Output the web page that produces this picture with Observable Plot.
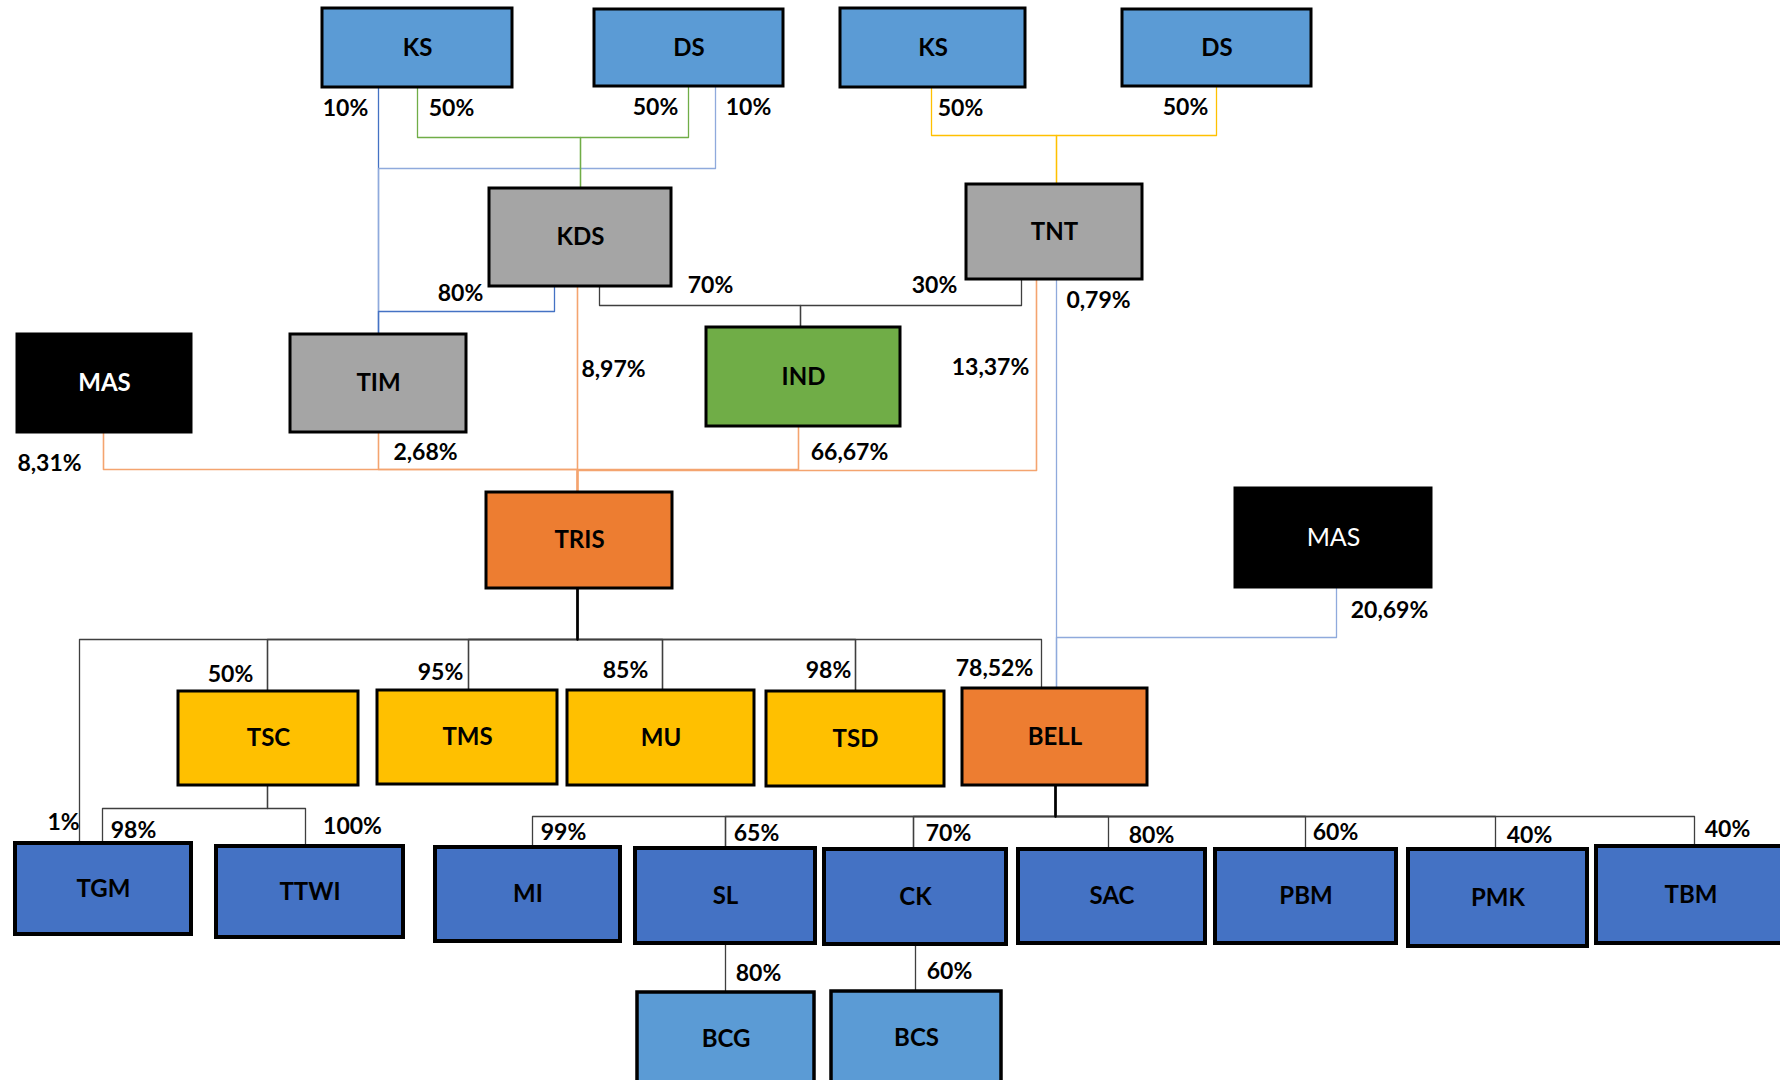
<!DOCTYPE html>
<html>
<head>
<meta charset="utf-8">
<script src="https://cdn.jsdelivr.net/npm/d3@7"></script>
<script src="https://cdn.jsdelivr.net/npm/@observablehq/plot@0.6"></script>
<style>
html, body { margin: 0; padding: 0; background: #ffffff; overflow: hidden; }
#chart svg { display: block; }
</style>
</head>
<body>
<div id="chart"></div>
<script>
// ---------------- DATA ----------------
const nodeIds    = ["KS_a","DS_a","KS_b","DS_b","KDS","TNT","MAS_a","TIM","IND","TRIS","MAS_b",
                    "TSC","TMS","MU","TSD","BELL","TGM","TTWI","MI","SL","CK","SAC","PBM","PMK","TBM","BCG","BCS"];
const nodeLabels = ["KS","DS","KS","DS","KDS","TNT","MAS","TIM","IND","TRIS","MAS",
                    "TSC","TMS","MU","TSD","BELL","TGM","TTWI","MI","SL","CK","SAC","PBM","PMK","TBM","BCG","BCS"];
const nodeKinds  = ["owner","owner","owner","owner","holding","holding","outside","holding","venture","group","outside",
                    "subsidiary","subsidiary","subsidiary","subsidiary","group",
                    "operating","operating","operating","operating","operating","operating","operating","operating","operating",
                    "affiliate","affiliate"];

const edgeFrom  = ["KS_a","DS_a","KS_a","DS_a","KDS","KDS","TNT","KS_b","DS_b",
                   "MAS_a","TIM","KDS","IND","TNT","TNT","MAS_b",
                   "TRIS","TRIS","TRIS","TRIS","TRIS","TRIS","TSC","TSC",
                   "BELL","BELL","BELL","BELL","BELL","BELL","BELL","SL","CK"];
const edgeTo    = ["TIM","TIM","KDS","KDS","TIM","IND","IND","TNT","TNT",
                   "TRIS","TRIS","TRIS","TRIS","TRIS","BELL","BELL",
                   "TGM","TSC","TMS","MU","TSD","BELL","TGM","TTWI",
                   "MI","SL","CK","SAC","PBM","PMK","TBM","BCG","BCS"];
const edgeShare = ["10%","10%","50%","50%","80%","70%","30%","50%","50%",
                   "8,31%","2,68%","8,97%","66,67%","13,37%","0,79%","20,69%",
                   "1%","50%","95%","85%","98%","78,52%","98%","100%",
                   "99%","65%","70%","80%","60%","40%","40%","80%","60%"];

// ---------------- STYLE ----------------
const kindDomain = ["owner","holding","outside","venture","group","subsidiary","operating","affiliate",
                    "l-blue","l-blue2","l-green","l-yellow","l-orange","l-dark"];
const kindRange  = ["#5B9BD5","#A5A5A5","#000000","#70AD47","#ED7D31","#FFC000","#4472C4","#5B9BD5",
                    "#4472C4","#8FAADC","#70AD47","#FFC000","#F4A46F","#3F3F3F"];

// ---------------- LAYOUT (diagram placement) ----------------
// box extents: [x1, x2, y1, y2]
const boxLayout = {
  KS_a:[322,512,8,87], DS_a:[594,783,9,86], KS_b:[840,1025,8,87], DS_b:[1122,1311,9,86],
  KDS:[489,671,188,286], TNT:[966,1142,184,279],
  MAS_a:[17,191,334,432], TIM:[290,466,334,432], IND:[706,900,327,426],
  TRIS:[486,672,492,588], MAS_b:[1235,1431,488,587],
  TSC:[178,358,691,785], TMS:[377,557,690,784], MU:[567,754,690,785], TSD:[766,944,691,786], BELL:[962,1147,688,785],
  TGM:[15,191,843,934], TTWI:[216,403,846,937], MI:[435,620,847,941], SL:[635,815,848,943], CK:[824,1006,849,944],
  SAC:[1018,1205,849,943], PBM:[1215,1396,849,943], PMK:[1408,1587,849,946], TBM:[1596,1785,846,943],
  BCG:[637,814,992,1085], BCS:[831,1001,991,1085]
};
const boxStroke = {TGM:4,TTWI:4,MI:4,SL:4,CK:4,SAC:4,PBM:4,PMK:4,TBM:4,BCG:3.5,BCS:3.5};
// connector routing: [exitX, busY, entryX, labelX, labelY, lineKind, width]
const edgeRoute = [
  [378,168,378, 345,108,"l-blue",1.3],
  [715,168,378, 748,107,"l-blue2",1.3],
  [417,137,580, 451,108,"l-green",1.3],
  [688,137,580, 655,107,"l-green",1.3],
  [554,311,378, 460,293,"l-blue",1.3],
  [599,305,800, 710,285,"l-dark",1.3],
  [1021,305,800, 934,285,"l-dark",1.3],
  [931,135,1056, 960,108,"l-yellow",1.3],
  [1216,135,1056, 1185,107,"l-yellow",1.3],
  [103,469,577, 49,463,"l-orange",1.5],
  [378,469,577, 425,452,"l-orange",1.5],
  [577,469,577, 613,369,"l-orange",1.5],
  [798,469,577, 849,452,"l-orange",1.5],
  [1036,470,577, 990,367,"l-orange",1.5],
  [1056,637,1056, 1098,300,"l-blue2",1.3],
  [1336,637,1056, 1389,610,"l-blue2",1.3],
  [577,639,79, 63,822,"l-dark",1.3],
  [577,639,267, 230,674,"l-dark",1.6],
  [577,639,468, 440,672,"l-dark",1.6],
  [577,639,662, 625,670,"l-dark",1.6],
  [577,639,855, 828,670,"l-dark",1.6],
  [577,639,1041, 994,668,"l-dark",1.3],
  [267,808,102, 133,830,"l-dark",1.3],
  [267,808,305, 352,826,"l-dark",1.3],
  [1055,816,532, 563,832,"l-dark",1.3],
  [1055,816,725, 756,833,"l-dark",1.6],
  [1055,816,913, 948,833,"l-dark",1.6],
  [1055,816,1108, 1151,835,"l-dark",1.3],
  [1055,816,1305, 1335,832,"l-dark",1.3],
  [1055,816,1495, 1529,835,"l-dark",1.3],
  [1055,816,1694, 1727,829,"l-dark",1.3],
  [725,968,725, 758,973,"l-dark",1.3],
  [915,968,915, 949,971,"l-dark",1.3]
];
// thick trunk lines from the two main parents
const trunks = [["TRIS",577,639],["BELL",1055,816]];

// ---------------- BUILD ----------------
const nodes = nodeIds.map((id, i) => {
  const [x1, x2, y1, y2] = boxLayout[id];
  return {id, label: nodeLabels[i], kind: nodeKinds[i], x1, x2, y1, y2,
          cx: (x1 + x2) / 2, cy: (y1 + Math.min(y2, 1085)) / 2, sw: boxStroke[id] || 3};
});
const byId = Object.fromEntries(nodes.map(n => [n.id, n]));

const linePts = [];
const shareLabels = [];
edgeFrom.forEach((from, i) => {
  const p = byId[from], c = byId[edgeTo[i]];
  const [ex, bus, cx, lx, ly, kind, w] = edgeRoute[i];
  const pts = [[ex, p.y2], [ex, bus], [cx, bus], [cx, c.y1]];
  pts.forEach(([x, y]) => linePts.push({edge: i, x, y, kind, w}));
  shareLabels.push({x: lx, y: ly, text: edgeShare[i]});
});
const trunkPts = [];
trunks.forEach(([id, x, y], k) => {
  trunkPts.push({t: k, x, y: byId[id].y2}, {t: k, x, y});
});

const font = "Lato, 'Open Sans', 'DejaVu Sans', sans-serif";
const thinPts = linePts.filter(d => d.w < 1.45);
const midPts = linePts.filter(d => d.w >= 1.45);

const chart = Plot.plot({
  width: 1780,
  height: 1080,
  margin: 0,
  x: {domain: [0, 1780], range: [0, 1780], axis: null},
  y: {domain: [0, 1080], range: [0, 1080], axis: null},
  color: {type: "ordinal", domain: kindDomain, range: kindRange},
  style: {fontFamily: font, background: "#ffffff"},
  marks: [
    Plot.line(thinPts, {x: "x", y: "y", z: "edge", stroke: "kind", strokeWidth: 1.3, curve: "linear"}),
    Plot.line(midPts, {x: "x", y: "y", z: "edge", stroke: "kind", strokeWidth: 1.6, curve: "linear"}),
    Plot.line(trunkPts, {x: "x", y: "y", z: "t", stroke: "#000000", strokeWidth: 2.4}),
    Plot.rect(nodes, {x1: "x1", x2: "x2", y1: "y1", y2: "y2", fill: "kind", stroke: "#000000", strokeWidth: "sw"}),
    Plot.text(nodes.filter(n => n.kind !== "outside"),
      {x: "cx", y: "cy", text: "label", fill: "#000000", fontWeight: "bold", fontSize: 24, fontFamily: font}),
    Plot.text(nodes.filter(n => n.id === "MAS_a"),
      {x: "cx", y: "cy", text: "label", fill: "#ffffff", fontWeight: "bold", fontSize: 24, fontFamily: font}),
    Plot.text(nodes.filter(n => n.id === "MAS_b"),
      {x: "cx", y: "cy", text: "label", fill: "#ffffff", fontWeight: "normal", fontSize: 25, fontFamily: font}),
    Plot.text(shareLabels,
      {x: "x", y: "y", text: "text", fill: "#000000", fontWeight: "bold", fontSize: 23, fontFamily: font})
  ]
});
document.getElementById("chart").appendChild(chart);
</script>
</body>
</html>
